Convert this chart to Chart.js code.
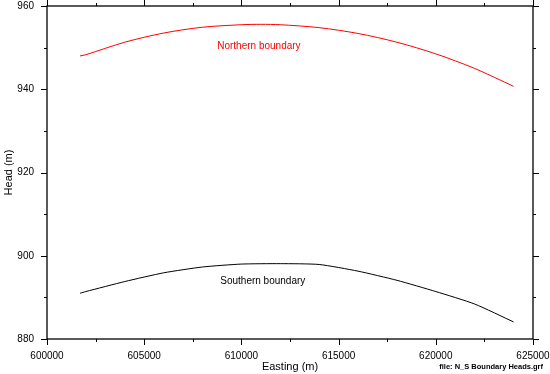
<!DOCTYPE html>
<html>
<head>
<meta charset="utf-8">
<script src="https://cdn.jsdelivr.net/npm/chart.js@4.4.1/dist/chart.umd.min.js"></script>
<style>
  html, body { margin: 0; padding: 0; background: #fff; }
  #wrap { width: 550px; height: 374px; }
</style>
</head>
<body>
<div id="wrap"><canvas id="headChart"></canvas></div>
<script>
// datos
const eastingNorth = [601700, 602000, 604000, 606000, 608000, 610000, 611000, 612000, 614000, 616000, 618000, 620000, 622000, 624000];
const headNorth    = [948.0, 948.3, 951.3, 953.5, 954.9, 955.5, 955.6, 955.5, 954.8, 953.4, 951.3, 948.5, 945.0, 940.7];

const eastingSouth = [601700, 602000, 604000, 606000, 608000, 610000, 612000, 614000, 616000, 618000, 620000, 622000, 624000];
const headSouth    = [891.0, 891.4, 893.8, 895.9, 897.3, 898.0, 898.1, 897.9, 896.3, 894.1, 891.4, 888.4, 884.1];

const seriesNames = ["Northern boundary", "Southern boundary"];
const xTicks = [600000, 605000, 610000, 615000, 620000, 625000];
const yTicks = [880, 900, 920, 940, 960];

const FONT = "'Liberation Sans', Arial, sans-serif";

// marco, marcas menores y etiquetas de las curvas
const framePlugin = {
  id: "frame",
  afterDraw(chart) {
    const ctx = chart.ctx, a = chart.chartArea;
    const xs = chart.scales.x, ys = chart.scales.y;
    ctx.save();
    ctx.strokeStyle = "#000";
    ctx.lineWidth = 1.3;
    ctx.strokeRect(a.left, a.top, a.right - a.left, a.bottom - a.top);

    ctx.lineWidth = 1;
    ctx.beginPath();
    xs.ticks.forEach((t) => {
      const px = Math.round(xs.getPixelForValue(t.value)) + 0.5;
      const len = xTicks.includes(t.value) ? 6 : 3;
      ctx.moveTo(px, a.bottom); ctx.lineTo(px, a.bottom + len);
      ctx.moveTo(px, a.top); ctx.lineTo(px, a.top - len);
    });
    ys.ticks.forEach((t) => {
      const py = Math.round(ys.getPixelForValue(t.value)) + 0.5;
      const len = yTicks.includes(t.value) ? 6 : 3;
      ctx.moveTo(a.left, py); ctx.lineTo(a.left - len, py);
      ctx.moveTo(a.right, py); ctx.lineTo(a.right + len, py);
    });
    ctx.stroke();

    ctx.font = "10px " + FONT;
    ctx.textAlign = "center";
    ctx.textBaseline = "middle";
    ctx.fillStyle = "#ff0000";
    ctx.fillText(seriesNames[0], xs.getPixelForValue(610900), ys.getPixelForValue(950.4));
    ctx.fillStyle = "#000";
    ctx.fillText(seriesNames[1], xs.getPixelForValue(611100), ys.getPixelForValue(893.8));

    ctx.font = "bold 7.5px " + FONT;
    ctx.textAlign = "right";
    ctx.fillText("file: N_S Boundary Heads.grf", 543, 367);
    ctx.restore();
  }
};

document.addEventListener("DOMContentLoaded", function () {
  const ctx = document.getElementById("headChart").getContext("2d");
  new Chart(ctx, {
    type: "line",
    data: {
      datasets: [{
        label: seriesNames[0],
        data: eastingNorth.map((x, i) => ({ x: x, y: headNorth[i] })),
        borderColor: "#ff0000",
        borderWidth: 1,
        pointRadius: 0,
        tension: 0.3,
      }, {
        label: seriesNames[1],
        data: eastingSouth.map((x, i) => ({ x: x, y: headSouth[i] })),
        borderColor: "#000000",
        borderWidth: 1,
        pointRadius: 0,
        tension: 0.2,
      }],
    },
    options: {
      responsive: true,
      maintainAspectRatio: false,
      animation: false,
      layout: { padding: { top: 6, right: 17, left: 0, bottom: 0 } },
      plugins: { legend: { display: false }, tooltip: { enabled: false } },
      scales: {
        x: {
          type: "linear",
          min: 600000,
          max: 625000,
          grid: { display: false, drawTicks: false, tickLength: 0 },
          border: { display: false },
          ticks: {
            stepSize: 2500,
            autoSkip: false,
            maxRotation: 0,
            padding: 11,
            color: "#000",
            font: { family: FONT, size: 10 },
            callback: (v) => (xTicks.includes(v) ? String(v) : ""),
          },
          title: {
            display: true,
            text: "Easting (m)",
            color: "#000",
            font: { family: FONT, size: 11 },
            padding: { top: 0, bottom: 0 },
          },
          afterFit: (s) => { s.height = 35; s.paddingLeft = 0; s.paddingRight = 0; },
        },
        y: {
          min: 880,
          max: 960,
          grid: { display: false, drawTicks: false, tickLength: 0 },
          border: { display: false },
          ticks: {
            stepSize: 10,
            autoSkip: false,
            padding: 13,
            color: "#000",
            font: { family: FONT, size: 10 },
            callback: (v) => (yTicks.includes(v) ? String(v) : ""),
          },
          title: {
            display: true,
            text: "Head (m)",
            color: "#000",
            font: { family: FONT, size: 11 },
            padding: { top: 2, bottom: 0 },
          },
          afterFit: (s) => { s.width = 47; s.paddingTop = 0; s.paddingBottom = 0; },
        },
      },
    },
    plugins: [framePlugin],
  });
});
</script>
</body>
</html>
